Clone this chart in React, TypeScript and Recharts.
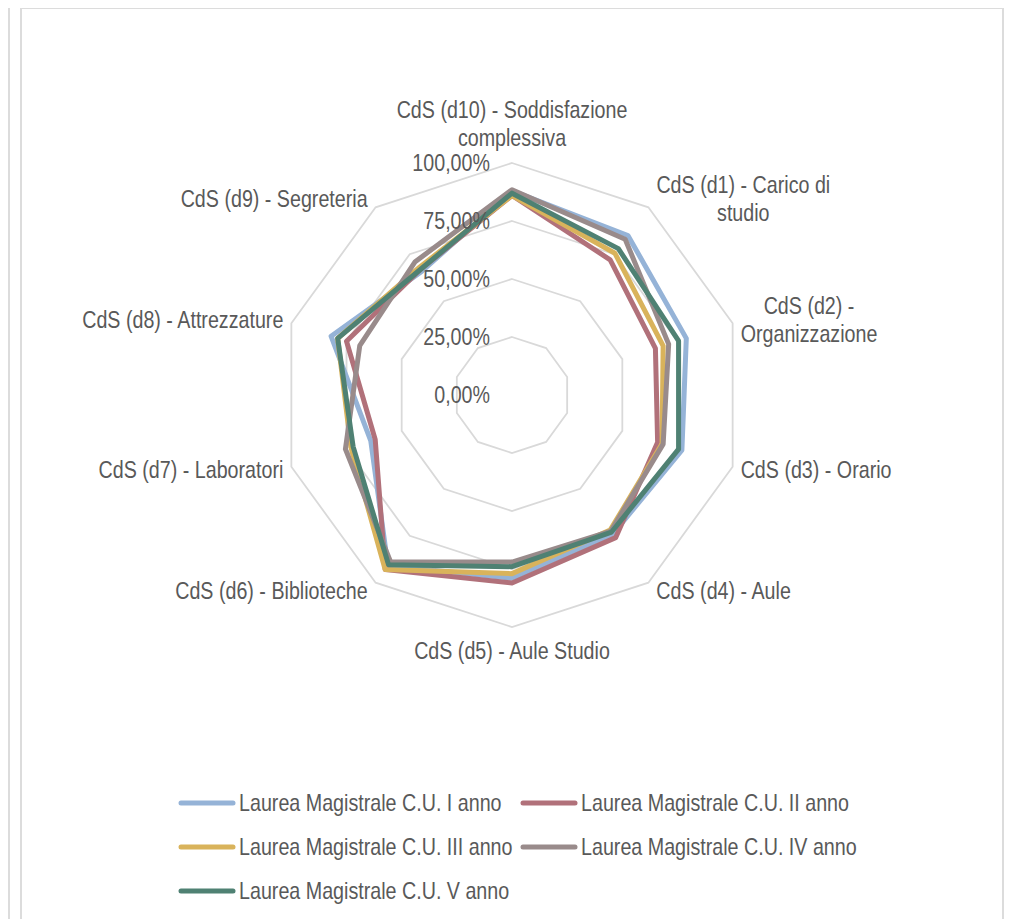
import { RadarChart, Radar, PolarGrid, PolarAngleAxis, PolarRadiusAxis, Legend } from 'recharts';

// axis order: starts at the top and goes clockwise
const categories = [
  'CdS (d10) - Soddisfazione\ncomplessiva',
  'CdS (d1) - Carico di\nstudio',
  'CdS (d2) -\nOrganizzazione',
  'CdS (d3) - Orario',
  'CdS (d4) - Aule',
  'CdS (d5) - Aule Studio',
  'CdS (d6) - Biblioteche',
  'CdS (d7) - Laboratori',
  'CdS (d8) - Attrezzature',
  'CdS (d9) - Segreteria',
];

const anno1 = [88, 85, 79, 77, 74, 79, 91, 64, 82, 66];
const anno2 = [86, 72, 65, 66, 76, 81, 93, 62, 75, 67];
const anno3 = [86, 75.5, 68.5, 68, 72, 77, 93, 73, 79, 68];
const anno4 = [88.5, 83, 71, 68.5, 72.5, 72, 89, 75.5, 69, 71];
const anno5 = [87, 78, 75.5, 75.5, 73, 74, 90.5, 72, 79, 67];

const seriesNames = [
  'Laurea Magistrale C.U. I anno',
  'Laurea Magistrale C.U. II anno',
  'Laurea Magistrale C.U. III anno',
  'Laurea Magistrale C.U. IV anno',
  'Laurea Magistrale C.U. V anno',
];
const seriesValues = [anno1, anno2, anno3, anno4, anno5];
const seriesColors = ['#95b3d7', '#b1717a', '#d9b35b', '#998b8b', '#4f8173'];

const radiusTicks = [0, 25, 50, 75, 100];

const data = categories.map((cat, i) => {
  const row: Record<string, string | number> = { cat };
  seriesValues.forEach((vals, s) => {
    row[`s${s}`] = vals[i];
  });
  return row;
});

const CX = 512;
const CY = 395;
const R = 232;
// no narrow font installed, so squeeze Liberation Sans like Arial Narrow
const FONT = "'Liberation Sans', Arial, sans-serif";
const FS = 24;
const SQ = 0.82;
const TEXT = '#595959';
const LINE_H = 28;

let ctx: CanvasRenderingContext2D | null = null;
function measure(t: string) {
  if (!ctx) ctx = document.createElement('canvas').getContext('2d');
  if (!ctx) return t.length * 9;
  ctx.font = `${FS}px ${FONT}`;
  return ctx.measureText(t).width * SQ;
}

function AngleTick(props: any) {
  const { payload, index } = props;
  const n = categories.length;
  const th = (index * 2 * Math.PI) / n;
  const s = Math.sin(th);
  const c = Math.cos(th);
  const vx = CX + R * s;
  const vy = CY - R * c;
  const lines = String(payload.value).split('\n');
  let x = vx;
  let anchor: 'start' | 'middle' | 'end' = 'middle';
  let firstY: number;
  if (Math.abs(s) < 0.01) {
    firstY = c > 0 ? vy - 25 - (lines.length - 1) * LINE_H : vy + 24;
  } else {
    const centerY = vy - 10 * c;
    firstY = centerY - ((lines.length - 1) * LINE_H) / 2;
    if (lines.length > 1) {
      const w = Math.max(...lines.map(measure));
      x = s > 0 ? vx + 8 + w / 2 : vx - 8 - w / 2;
    } else {
      anchor = s > 0 ? 'start' : 'end';
      x = s > 0 ? vx + 8 : vx - 8;
    }
  }
  return (
    <text
      transform={`translate(${x},${firstY + 8}) scale(${SQ},1)`}
      textAnchor={anchor}
      fill={TEXT}
      fontSize={FS}
      fontFamily={FONT}
    >
      {lines.map((l, i) => (
        <tspan key={i} x={0} y={i * LINE_H}>
          {l}
        </tspan>
      ))}
    </text>
  );
}

function RadiusTick(props: any) {
  const { x, y, payload } = props;
  const label = `${Number(payload.value).toFixed(2).replace('.', ',')}%`;
  return (
    <text
      transform={`translate(${x - 22},${y + 8}) scale(${SQ},1)`}
      textAnchor="end"
      fill={TEXT}
      fontSize={FS}
      fontFamily={FONT}
    >
      {label}
    </text>
  );
}

function LegendBox(props: any) {
  const payload = props.payload || [];
  return (
    <div style={{ display: 'grid', gridTemplateColumns: '342px 342px' }}>
      {payload.map((p: any, i: number) => (
        <div key={i} style={{ display: 'flex', alignItems: 'center', height: 44, whiteSpace: 'nowrap' }}>
          <svg width={58} height={10} style={{ flex: 'none' }}>
            <line x1={3} y1={5} x2={55} y2={5} stroke={p.color || seriesColors[i]} strokeWidth={5} strokeLinecap="round" />
          </svg>
          <span
            style={{
              marginLeft: 3,
              fontSize: FS,
              fontFamily: FONT,
              color: TEXT,
              display: 'inline-block',
              transform: `scaleX(${SQ})`,
              transformOrigin: 'left center',
            }}
          >
            {p.value}
          </span>
        </div>
      ))}
    </div>
  );
}

export default function App() {
  return (
    <div style={{ position: 'relative', width: 1016, height: 911 }}>
      <div style={{ position: 'absolute', left: 0, top: -8, width: 2, height: 930, background: '#dcdcdc' }} />
      <div
        style={{
          position: 'absolute',
          left: 12,
          top: -1,
          width: 980,
          height: 940,
          border: '2px solid #dcdcdc',
        }}
      />
      <div style={{ position: 'absolute', left: -8, top: -8 }}>
        <RadarChart
          width={1032}
          height={919}
          data={data}
          cx={CX}
          cy={CY}
          outerRadius={R}
          margin={{ top: 0, right: 0, bottom: 0, left: 0 }}
        >
          <PolarGrid gridType="polygon" radialLines={false} stroke="#d9d9d9" strokeWidth={1.8} />
          <PolarAngleAxis dataKey="cat" tick={<AngleTick />} tickLine={false} axisLine={false} />
          <PolarRadiusAxis
            angle={90}
            domain={[0, 100]}
            ticks={radiusTicks}
            tickCount={5}
            axisLine={false}
            tickLine={false}
            tick={<RadiusTick />}
          />
          {seriesNames.map((name, i) => (
            <Radar
              key={name}
              name={name}
              dataKey={`s${i}`}
              stroke={seriesColors[i]}
              strokeWidth={5}
              strokeLinejoin="round"
              fill="none"
              fillOpacity={0}
              dot={false}
              legendType="line"
              isAnimationActive={false}
            />
          ))}
          <Legend
            content={<LegendBox />}
            wrapperStyle={{ position: 'absolute', left: 178, top: 781, width: 700, bottom: 'auto' }}
          />
        </RadarChart>
      </div>
    </div>
  );
}
